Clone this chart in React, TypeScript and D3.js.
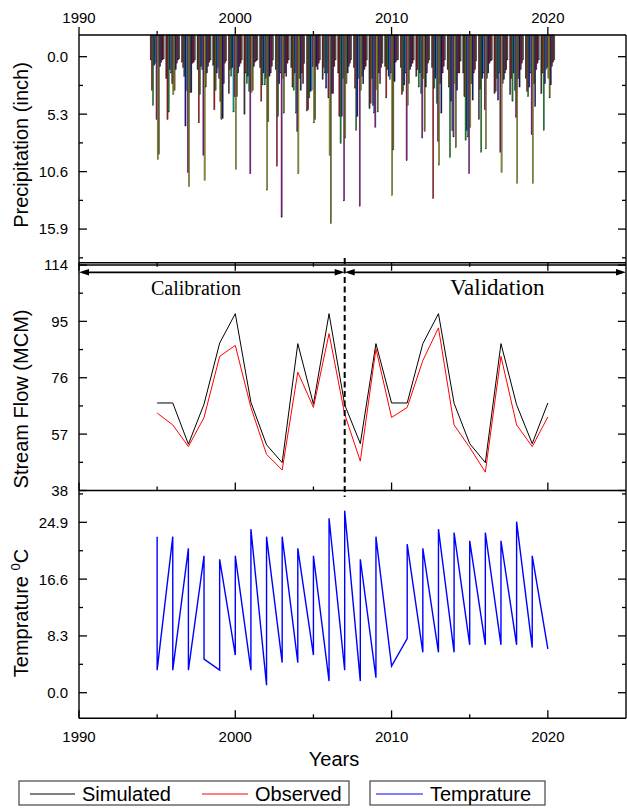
import React from "react";
import * as d3 from "d3";

// monthly precipitation, one row per year (inch)
const precipYears = [
  1995, 1996, 1997, 1998, 1999, 2000, 2001, 2002, 2003, 2004, 2005, 2006, 2007,
  2008, 2009, 2010, 2011, 2012, 2013, 2014, 2015, 2016, 2017, 2018, 2019, 2020,
];
const months = ["Jan", "Feb", "Mar", "Apr", "May", "Jun", "Jul", "Aug", "Sep", "Oct", "Nov", "Dec"];
const monthColors = [
  "#3c3c3c", "#c81414", "#14961e", "#1414c8", "#14a0a0", "#a014a0",
  "#a8a81e", "#7d7d1e", "#14147d", "#7d147d", "#7d1414", "#5a5a5a",
];
const monthlyPrecip = [
  [0.3, 3.1, 4.5, 0.8, 0.6, 5.8, 9.5, 9.0, 0.9, 0.5, 0.3, 0.2],
  [2.0, 5.8, 5.1, 1.2, 1.5, 2.5, 3.5, 3.1, 1.2, 0.6, 0.3, 0.2],
  [0.5, 1.0, 1.8, 6.4, 3.1, 10.7, 12.0, 3.3, 3.3, 0.6, 0.5, 0.3],
  [1.2, 6.1, 3.5, 0.9, 1.2, 9.1, 11.4, 2.8, 1.5, 0.9, 0.5, 0.3],
  [0.8, 4.9, 3.1, 1.5, 1.0, 2.0, 4.1, 5.8, 5.7, 2.5, 0.6, 0.4],
  [3.4, 1.2, 1.8, 1.0, 5.1, 3.7, 10.4, 3.7, 1.5, 0.9, 0.6, 0.3],
  [5.3, 1.5, 2.5, 1.8, 3.2, 10.8, 3.3, 3.1, 0.9, 0.5, 0.4, 0.3],
  [1.0, 4.1, 2.6, 1.5, 2.6, 2.0, 12.3, 6.0, 1.8, 1.5, 0.9, 0.3],
  [1.2, 10.1, 5.5, 2.5, 1.5, 14.8, 2.0, 5.2, 1.5, 1.8, 0.6, 0.3],
  [1.0, 2.8, 3.1, 1.5, 5.2, 6.9, 10.8, 2.0, 3.1, 1.5, 2.5, 0.6],
  [5.0, 4.9, 3.8, 3.2, 3.1, 0.9, 6.1, 5.8, 0.9, 1.2, 0.6, 0.3],
  [2.1, 1.0, 1.5, 2.9, 1.5, 3.8, 9.1, 15.4, 3.4, 3.4, 0.9, 0.3],
  [1.5, 5.5, 8.0, 5.5, 2.0, 13.3, 7.5, 2.5, 1.5, 0.9, 0.6, 0.3],
  [1.0, 2.9, 6.8, 5.5, 2.0, 13.8, 3.1, 1.8, 2.5, 1.2, 0.9, 0.3],
  [4.8, 4.3, 2.0, 4.5, 5.2, 6.5, 3.0, 5.1, 1.5, 2.5, 1.0, 0.6],
  [0.9, 3.8, 1.2, 1.8, 2.1, 1.5, 12.8, 8.6, 2.3, 0.5, 0.3, 0.3],
  [1.0, 3.5, 3.2, 2.6, 1.5, 9.6, 4.5, 2.5, 1.2, 0.9, 0.6, 0.3],
  [1.8, 1.2, 2.8, 1.5, 3.4, 7.5, 2.0, 6.9, 2.8, 1.5, 0.6, 0.3],
  [1.0, 13.1, 2.9, 2.0, 4.3, 7.8, 10.0, 2.5, 5.2, 1.5, 0.9, 0.3],
  [1.2, 2.8, 9.3, 4.1, 6.8, 7.4, 2.5, 8.4, 3.1, 1.5, 1.5, 0.4],
  [1.5, 3.7, 7.7, 6.8, 7.4, 10.8, 6.5, 2.5, 4.0, 1.5, 1.2, 0.4],
  [5.8, 3.0, 8.8, 2.0, 1.5, 4.9, 8.5, 2.0, 1.5, 0.6, 0.4, 0.3],
  [3.4, 3.2, 2.0, 4.0, 1.5, 8.8, 10.7, 2.5, 2.1, 1.5, 1.2, 0.3],
  [3.5, 2.0, 4.1, 1.5, 3.1, 5.6, 11.7, 2.0, 2.8, 1.2, 0.6, 0.3],
  [2.0, 3.2, 3.7, 2.8, 1.5, 7.2, 11.7, 2.5, 4.6, 1.2, 0.6, 0.3],
  [3.4, 1.5, 6.8, 2.5, 1.2, 1.0, 2.0, 3.8, 2.6, 0.9, 0.5, 0.3],
];

// stream flow (MCM)
const flowYears = precipYears;
const simulatedFlow = [
  67.5, 67.5, 53.6, 67.1, 87.7, 97.6, 67.7, 53.4, 47.4, 87.5, 67.1, 97.6, 66.9,
  53.8, 87.5, 67.5, 67.5, 87.5, 97.6, 67.4, 53.8, 47.4, 87.5, 66.9, 53.8, 67.5,
];
const observedFlow = [
  64.1, 60.1, 52.8, 62.6, 83.2, 86.9, 66.0, 50.2, 44.9, 77.9, 66.0, 90.9, 63.7,
  47.9, 85.8, 62.6, 66.0, 81.8, 92.8, 60.1, 52.5, 44.2, 83.2, 60.1, 52.8, 62.8,
];

// temperature, two readings per year
const tempYears = [
  1995, 1995, 1996, 1996, 1997, 1997, 1998, 1998, 1999, 1999, 2000, 2000, 2001,
  2001, 2002, 2002, 2003, 2003, 2004, 2004, 2005, 2005, 2006, 2006, 2007, 2007,
  2008, 2008, 2009, 2009, 2010, 2011, 2011, 2012, 2012, 2013, 2013, 2014, 2014,
  2015, 2015, 2016, 2016, 2017, 2017, 2018, 2018, 2019, 2019, 2020,
];
const tempValues = [
  22.8, 3.3, 22.8, 3.3, 21.1, 3.3, 20.0, 4.9, 3.3, 19.5, 5.5, 20.0, 3.3,
  23.9, 1.1, 22.8, 4.4, 22.8, 4.4, 21.1, 5.5, 20.0, 1.7, 25.5, 3.3, 26.6,
  1.7, 19.5, 2.2, 22.8, 3.9, 7.9, 21.7, 5.9, 21.1, 5.9, 23.9, 5.9, 23.4,
  7.0, 22.2, 7.0, 23.4, 7.0, 22.2, 7.0, 25.0, 6.6, 20.0, 6.4,
];

const yearTicks = [1990, 2000, 2010, 2020];
const yearMinorTicks = [1995, 2005, 2015];
const precipTicks = [0, 5.3, 10.6, 15.9];
const flowTicks = [38, 57, 76, 95, 114];
const tempTicks = [0, 8.3, 16.6, 24.9];
const splitYear = 2007;

const W = 627;
const H = 809;
const L = 79;
const R = 626;
const sans = "'Liberation Sans', Arial, sans-serif";
const serif = "'Liberation Serif', 'Times New Roman', serif";

const x = d3.scaleLinear().domain([1990, 2025]).range([L, R]);
const yP = d3.scaleLinear().domain([-2, 19]).range([35, 262.7]);
const yF = d3.scaleLinear().domain([38, 114]).range([490.5, 265]);
const yT = d3.scaleLinear().domain([-3.74, 29.55]).range([718.3, 490.5]);

const band = d3.scaleBand<string>().domain(months).range([-0.45, 0.45]);

// minor ticks halfway between majors, kept inside the domain
function minorOf(ticks: number[], scale: d3.ScaleLinear<number, number>) {
  const step = ticks[1] - ticks[0];
  const [a, b] = d3.extent(scale.domain()) as [number, number];
  const out: number[] = [];
  for (let k = -1; k <= ticks.length; k++) {
    const v = ticks[0] + (k + 0.5) * step;
    if (v > a && v < b) out.push(v);
  }
  return out;
}

function YAxis({ scale, ticks, fmt }: { scale: d3.ScaleLinear<number, number>; ticks: number[]; fmt: (v: number) => string }) {
  const minor = minorOf(ticks, scale);
  return (
    <g>
      {ticks.map((t) => (
        <g key={"M" + t}>
          <line x1={L} x2={L + 8} y1={scale(t)} y2={scale(t)} stroke="#000" strokeWidth={1.3} />
          <line x1={R} x2={R - 8} y1={scale(t)} y2={scale(t)} stroke="#000" strokeWidth={1.3} />
          <text x={L - 11} y={scale(t)} dy="0.36em" textAnchor="end" fontSize={15} fontFamily={sans}>
            {fmt(t)}
          </text>
        </g>
      ))}
      {minor.map((t) => (
        <g key={"m" + t}>
          <line x1={L} x2={L + 4} y1={scale(t)} y2={scale(t)} stroke="#000" strokeWidth={1.3} />
          <line x1={R} x2={R - 4} y1={scale(t)} y2={scale(t)} stroke="#000" strokeWidth={1.3} />
        </g>
      ))}
    </g>
  );
}

function XTicks({ y0, dir }: { y0: number; dir: number }) {
  return (
    <g>
      {yearTicks.map((t) => (
        <line key={"M" + t} x1={x(t)} x2={x(t)} y1={y0} y2={y0 + dir * 8} stroke="#000" strokeWidth={1.3} />
      ))}
      {yearMinorTicks.map((t) => (
        <line key={"m" + t} x1={x(t)} x2={x(t)} y1={y0} y2={y0 + dir * 4} stroke="#000" strokeWidth={1.3} />
      ))}
    </g>
  );
}

export default function App() {
  const bw = x(1990 + band.bandwidth()) - x(1990);
  const fmt1 = d3.format(".1f");
  const fmt0 = d3.format("d");

  const flowLine = d3
    .line<number>()
    .x((_, i) => x(flowYears[i]))
    .y((d) => yF(d));
  const tempLine = d3
    .line<number>()
    .x((_, i) => x(tempYears[i]))
    .y((d) => yT(d));

  const xs = x(splitYear);
  const ay = 272.3;
  const head = (tip: number, dir: number) =>
    `M${tip},${ay}L${tip - dir * 10},${ay - 3.2}L${tip - dir * 10},${ay + 3.2}Z`;

  return (
    <div style={{ position: "absolute", left: 0, top: 0 }}>
      <svg width={W} height={H} style={{ display: "block", background: "#fff" }}>
        {/* precipitation bars hanging from the top axis */}
        <g>
          {precipYears.map((yr, i) =>
            monthlyPrecip[i].map((v, m) => (
              <rect
                key={yr + "-" + m}
                x={x(yr + (band(months[m]) as number))}
                y={yP(-2)}
                width={bw}
                height={yP(v) - yP(-2)}
                fill={monthColors[m]}
                stroke="#111"
                strokeWidth={0.35}
              />
            ))
          )}
        </g>

        {/* stream flow */}
        <path d={flowLine(simulatedFlow) as string} fill="none" stroke="#000" strokeWidth={1} />
        <path d={flowLine(observedFlow) as string} fill="none" stroke="#ff0000" strokeWidth={1} />

        {/* temperature */}
        <path d={tempLine(tempValues) as string} fill="none" stroke="#0000ff" strokeWidth={1.4} />

        {/* frames */}
        <g stroke="#000" strokeWidth={1.4} fill="none">
          <line x1={L} x2={R} y1={yP.range()[0]} y2={yP.range()[0]} />
          <line x1={L} x2={R} y1={yP.range()[1]} y2={yP.range()[1]} />
          <line x1={L} x2={R} y1={yF.range()[1]} y2={yF.range()[1]} />
          <line x1={L} x2={R} y1={yF.range()[0]} y2={yF.range()[0]} />
          <line x1={L} x2={R} y1={yT.range()[0]} y2={yT.range()[0]} />
          <line x1={L} x2={L} y1={yP.range()[0]} y2={yT.range()[0]} />
          <line x1={R} x2={R} y1={yP.range()[0]} y2={yT.range()[0]} />
        </g>

        <XTicks y0={yP.range()[0]} dir={-1} />
        <XTicks y0={yP.range()[1]} dir={1} />
        <XTicks y0={yF.range()[0]} dir={-1} />
        <XTicks y0={yT.range()[0]} dir={-1} />

        {yearTicks.map((t) => (
          <g key={"lab" + t} fontSize={15} fontFamily={sans} textAnchor="middle">
            <text x={x(t)} y={23}>{t}</text>
            <text x={x(t)} y={742}>{t}</text>
          </g>
        ))}

        <YAxis scale={yP} ticks={precipTicks} fmt={fmt1} />
        <YAxis scale={yF} ticks={flowTicks} fmt={fmt0} />
        <YAxis scale={yT} ticks={tempTicks} fmt={fmt1} />

        {/* calibration / validation split */}
        <line x1={xs} x2={xs} y1={258} y2={497} stroke="#000" strokeWidth={2} strokeDasharray="6,3.5" />
        <g stroke="#000" strokeWidth={1.8}>
          <line x1={L + 4} x2={xs - 4} y1={ay} y2={ay} />
          <line x1={xs + 4} x2={R - 4} y1={ay} y2={ay} />
        </g>
        <g fill="#000">
          <path d={head(L, -1)} />
          <path d={head(xs, 1)} />
          <path d={head(xs, -1)} />
          <path d={head(R, 1)} />
        </g>
        <text x={151} y={295} fontSize={20} fontFamily={serif}>Calibration</text>
        <text x={450} y={295} fontSize={23} fontFamily={serif}>Validation</text>

        {/* axis titles */}
        <g fontSize={20} fontFamily={sans} textAnchor="middle">
          <text transform={`translate(28,145) rotate(-90)`}>Precipitation (inch)</text>
          <text transform={`translate(28,399) rotate(-90)`}>Stream Flow (MCM)</text>
          <text transform={`translate(28,613) rotate(-90)`}>
            <tspan>Temprature </tspan>
            <tspan fontSize={13} dy={-8}>0</tspan>
            <tspan dy={8}>C</tspan>
          </text>
          <text x={334} y={766}>Years</text>
        </g>

        {/* legend */}
        <g fontSize={20} fontFamily={sans}>
          <rect x={19} y={781} width={330} height={24} fill="#fff" stroke="#444" strokeWidth={1.2} />
          <line x1={30} x2={75} y1={794} y2={794} stroke="#000" strokeWidth={1} />
          <text x={82} y={801}>Simulated</text>
          <line x1={202} x2={248} y1={794} y2={794} stroke="#ff0000" strokeWidth={1} />
          <text x={255} y={801}>Observed</text>
          <rect x={370} y={781} width={175} height={24} fill="#fff" stroke="#444" strokeWidth={1.2} />
          <line x1={376} x2={423} y1={794} y2={794} stroke="#0000ff" strokeWidth={1.2} />
          <text x={430} y={801}>Temprature</text>
        </g>
      </svg>
    </div>
  );
}
